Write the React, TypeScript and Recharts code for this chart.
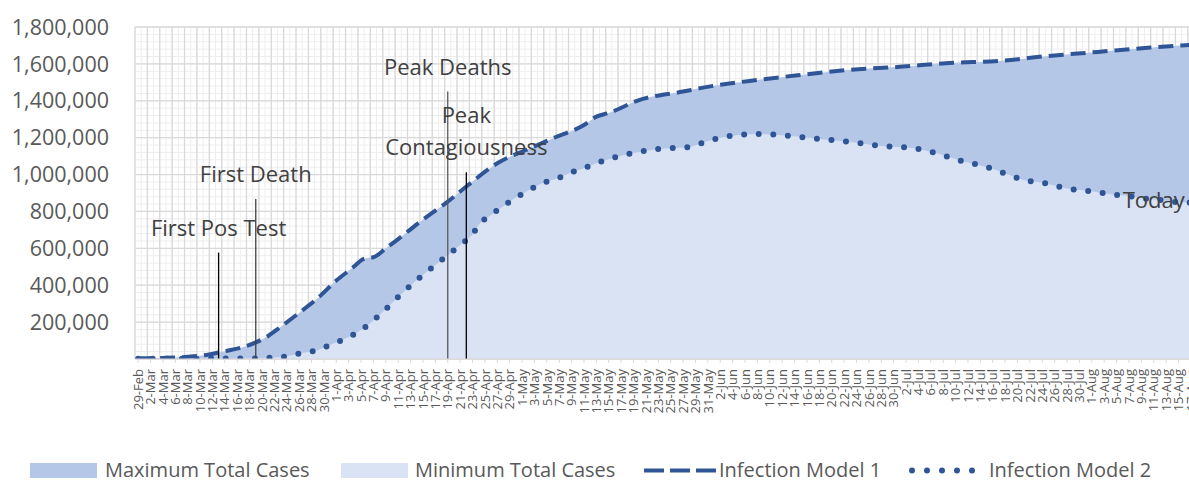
import React from 'react';
import {
  ComposedChart, Area, Line, XAxis, YAxis, CartesianGrid, ReferenceLine, ReferenceDot, Legend,
} from 'recharts';

// ---------- tick labels (every 2nd day, index 0 = 29-Feb) ----------
const tickLabels: string[] = [
  '29-Feb',
  '2-Mar', '4-Mar', '6-Mar', '8-Mar', '10-Mar', '12-Mar', '14-Mar', '16-Mar', '18-Mar', '20-Mar', '22-Mar', '24-Mar', '26-Mar', '28-Mar', '30-Mar',
  '1-Apr', '3-Apr', '5-Apr', '7-Apr', '9-Apr', '11-Apr', '13-Apr', '15-Apr', '17-Apr', '19-Apr', '21-Apr', '23-Apr', '25-Apr', '27-Apr', '29-Apr',
  '1-May', '3-May', '5-May', '7-May', '9-May', '11-May', '13-May', '15-May', '17-May', '19-May', '21-May', '23-May', '25-May', '27-May', '29-May', '31-May',
  '2-Jun', '4-Jun', '6-Jun', '8-Jun', '10-Jun', '12-Jun', '14-Jun', '16-Jun', '18-Jun', '20-Jun', '22-Jun', '24-Jun', '26-Jun', '28-Jun', '30-Jun',
  '2-Jul', '4-Jul', '6-Jul', '8-Jul', '10-Jul', '12-Jul', '14-Jul', '16-Jul', '18-Jul', '20-Jul', '22-Jul', '24-Jul', '26-Jul', '28-Jul', '30-Jul',
  '1-Aug', '3-Aug', '5-Aug', '7-Aug', '9-Aug', '11-Aug', '13-Aug', '15-Aug', '17-Aug',
];
const xTicks: number[] = tickLabels.map((_, k) => k * 2);

// ---------- series (day index, value) ----------
const model1Days: number[] = [0, 4, 8, 11, 14, 17, 19, 21, 23, 26, 29, 32, 35, 36, 37, 38, 40, 42, 45, 48, 50, 53, 58, 64, 67, 72, 74, 76, 81, 88, 91, 100, 107, 115, 123, 131, 139, 147, 155, 163, 170];
const model1Values: number[] = [4000, 6000, 12000, 22000, 42000, 65000, 90000, 125000, 174000, 250000, 330000, 425000, 505000, 535000, 548000, 552000, 600000, 650000, 730000, 805000, 853000, 935000, 1061000, 1152000, 1197000, 1269000, 1314000, 1334000, 1405000, 1450000, 1470000, 1513000, 1540000, 1568000, 1584000, 1605000, 1616000, 1643000, 1665000, 1687000, 1703000];

const model2Days: number[] = [0, 10, 18, 21, 24, 26, 29, 31, 33, 36, 39, 42, 45, 48, 52, 54, 55, 57, 59, 61, 63, 65, 68, 70, 72, 74, 80, 84, 89, 92, 97, 100, 105, 110, 115, 120, 125, 128, 133, 138, 141, 143, 146, 148, 150, 153, 155, 157, 160, 162, 165, 167, 170];
const model2Values: number[] = [2000, 2000, 3000, 6000, 15000, 30000, 49000, 76000, 103000, 157000, 239000, 336000, 428000, 510000, 618000, 676000, 727000, 781000, 830000, 875000, 913000, 949000, 983000, 1012000, 1034000, 1061000, 1117000, 1139000, 1150000, 1182000, 1215000, 1220000, 1210000, 1193000, 1177000, 1155000, 1144000, 1123000, 1074000, 1031000, 993000, 971000, 956000, 940000, 924000, 913000, 904000, 893000, 884000, 872000, 862000, 853000, 848000];

// ---------- annotations ----------
const annotationLabels: string[][] = [['First Pos Test'], ['First Death'], ['Peak Deaths'], ['Peak', 'Contagiousness']];
const annotationDays: number[] = [13, 19, 50, 53];
const annotationTops: number[] = [577000, 868000, 1450000, 1013000];
const annotationColors: string[] = ['#000000', '#404040', '#595959', '#000000'];
const todayLabel = 'Today';
const todayDay = 164;
const todayValue = 862000;

const yTicks: number[] = [0, 200000, 400000, 600000, 800000, 1000000, 1200000, 1400000, 1600000, 1800000];
const yMinor: number[] = Array.from({ length: 46 }, (_, k) => k * 40000);
const xMinor: number[] = Array.from({ length: 172 }, (_, k) => k - 0.5);
const xMajor: number[] = Array.from({ length: 86 }, (_, k) => k * 2 - 0.5);

const legendNames = ['Maximum Total Cases', 'Minimum Total Cases', 'Infection Model 1', 'Infection Model 2'];

const FONT = "'Segoe UI', 'Open Sans', sans-serif";
const BLUE = '#2f5597';
const MAX_FILL = '#b4c7e7';
const MIN_FILL = '#dae3f3';
const TEXT = '#595959';

const m1Data = model1Days.map((d, k) => ({ day: d, v: model1Values[k] }));
const m2Data = model2Days.map((d, k) => ({ day: d, v: model2Values[k] }));

const XTick = (props: any) => {
  const { x, y, payload } = props;
  const label = tickLabels[Math.round(payload.value / 2)] ?? '';
  return (
    <text x={x} y={y + 2} transform={`rotate(-90, ${x}, ${y + 2})`} textAnchor="end" dy="0.36em"
      fill={TEXT} fontSize={13} fontFamily={FONT}>{label}</text>
  );
};

const makeAnnShape = (lines: string[], color: string) => (props: any) => {
  const { x1, y1, x2, y2 } = props;
  const top = Math.min(y1, y2);
  const bottom = Math.max(y1, y2);
  const n = lines.length;
  return (
    <g>
      <line x1={x1} x2={x2} y1={top} y2={bottom} stroke={color} strokeWidth={1.3} />
      {lines.map((t, k) => (
        <text key={k} x={x1} y={top - 26 - (n - 1 - k) * 32} textAnchor="middle" dominantBaseline="central"
          fontSize={22} fontFamily={FONT} fill="#404040">{t}</text>
      ))}
    </g>
  );
};

const TodayShape = (props: any) => {
  const { cx, cy } = props;
  return (
    <text x={cx} y={cy - 1} textAnchor="middle" dominantBaseline="central" fontSize={22} fontFamily={FONT} fill="#404040">
      {todayLabel}
    </text>
  );
};

const itemStyle = (left: number): React.CSSProperties => ({
  position: 'absolute', left, top: 9, height: 44, display: 'flex', alignItems: 'center', whiteSpace: 'nowrap',
});

const LegendContent = () => (
  <div style={{
    position: 'relative', width: 1186, height: 44, fontFamily: FONT, fontSize: 20, color: TEXT, lineHeight: '20px',
  }}>
    <div style={itemStyle(22)}>
      <div style={{ width: 67, height: 15, background: MAX_FILL, marginRight: 8 }} />
      <span>{legendNames[0]}</span>
    </div>
    <div style={itemStyle(333)}>
      <div style={{ width: 67, height: 15, background: MIN_FILL, marginRight: 7 }} />
      <span>{legendNames[1]}</span>
    </div>
    <div style={itemStyle(636)}>
      <svg width={72} height={15} style={{ marginRight: 3 }}>
        <line x1={0} x2={72} y1={7.5} y2={7.5} stroke={BLUE} strokeWidth={4} strokeDasharray="20 6" />
      </svg>
      <span>{legendNames[2]}</span>
    </div>
    <div style={itemStyle(900)}>
      <svg width={72} height={15} style={{ marginRight: 9 }}>
        <line x1={4} x2={70} y1={7.5} y2={7.5} stroke={BLUE} strokeWidth={6} strokeDasharray="0 15" strokeLinecap="round" />
      </svg>
      <span>{legendNames[3]}</span>
    </div>
  </div>
);

export default function App() {
  return (
    <div style={{ position: 'absolute', left: 8, top: 8, width: 1181, height: 475, overflow: 'hidden', background: '#fff' }}>
      <ComposedChart width={1186} height={475} margin={{ top: 19, right: 0, bottom: 0, left: 0 }}>
        <CartesianGrid verticalValues={xMinor} horizontalValues={yMinor} stroke="#eeeeee" strokeWidth={1} />
        <CartesianGrid verticalValues={xMajor} horizontalValues={yTicks} stroke="#d9d9d9" strokeWidth={1.3} />
        <XAxis type="number" dataKey="day" domain={[-0.5, 170.5]} ticks={xTicks} interval={0}
          tick={<XTick />} height={80} tickSize={4} tickMargin={4}
          tickLine={{ stroke: '#d9d9d9' }} axisLine={{ stroke: '#d9d9d9' }} allowDataOverflow />
        <YAxis type="number" domain={[0, 1800000]} ticks={yTicks} interval={0} width={127}
          axisLine={false} tickLine={false} tickMargin={20}
          tickFormatter={(v: number) => (v === 0 ? '' : v.toLocaleString('en-US'))}
          tick={{ fontSize: 21.5, fill: TEXT, fontFamily: FONT }} allowDataOverflow />
        <Area data={m1Data} dataKey="v" type="monotone" stroke="none" fill={MAX_FILL} fillOpacity={1}
          isAnimationActive={false} activeDot={false} name={legendNames[0]} />
        <Area data={m2Data} dataKey="v" type="monotone" stroke="none" fill={MIN_FILL} fillOpacity={1}
          isAnimationActive={false} activeDot={false} name={legendNames[1]} />
        <Line data={m1Data} dataKey="v" type="monotone" stroke={BLUE} strokeWidth={4} strokeDasharray="15 7"
          dot={false} activeDot={false} isAnimationActive={false} name={legendNames[2]} />
        <Line data={m2Data} dataKey="v" type="monotone" stroke={BLUE} strokeWidth={6} strokeDasharray="0 14.6"
          strokeLinecap="round" dot={false} activeDot={false} isAnimationActive={false} name={legendNames[3]} />
        {annotationDays.map((d, k) => (
          <ReferenceLine key={k} segment={[{ x: d, y: 0 }, { x: d, y: annotationTops[k] }]}
            shape={makeAnnShape(annotationLabels[k], annotationColors[k])} />
        ))}
        <ReferenceDot x={todayDay} y={todayValue} r={0} shape={TodayShape} />
        <Legend verticalAlign="bottom" content={() => <LegendContent />} />
      </ComposedChart>
    </div>
  );
}
